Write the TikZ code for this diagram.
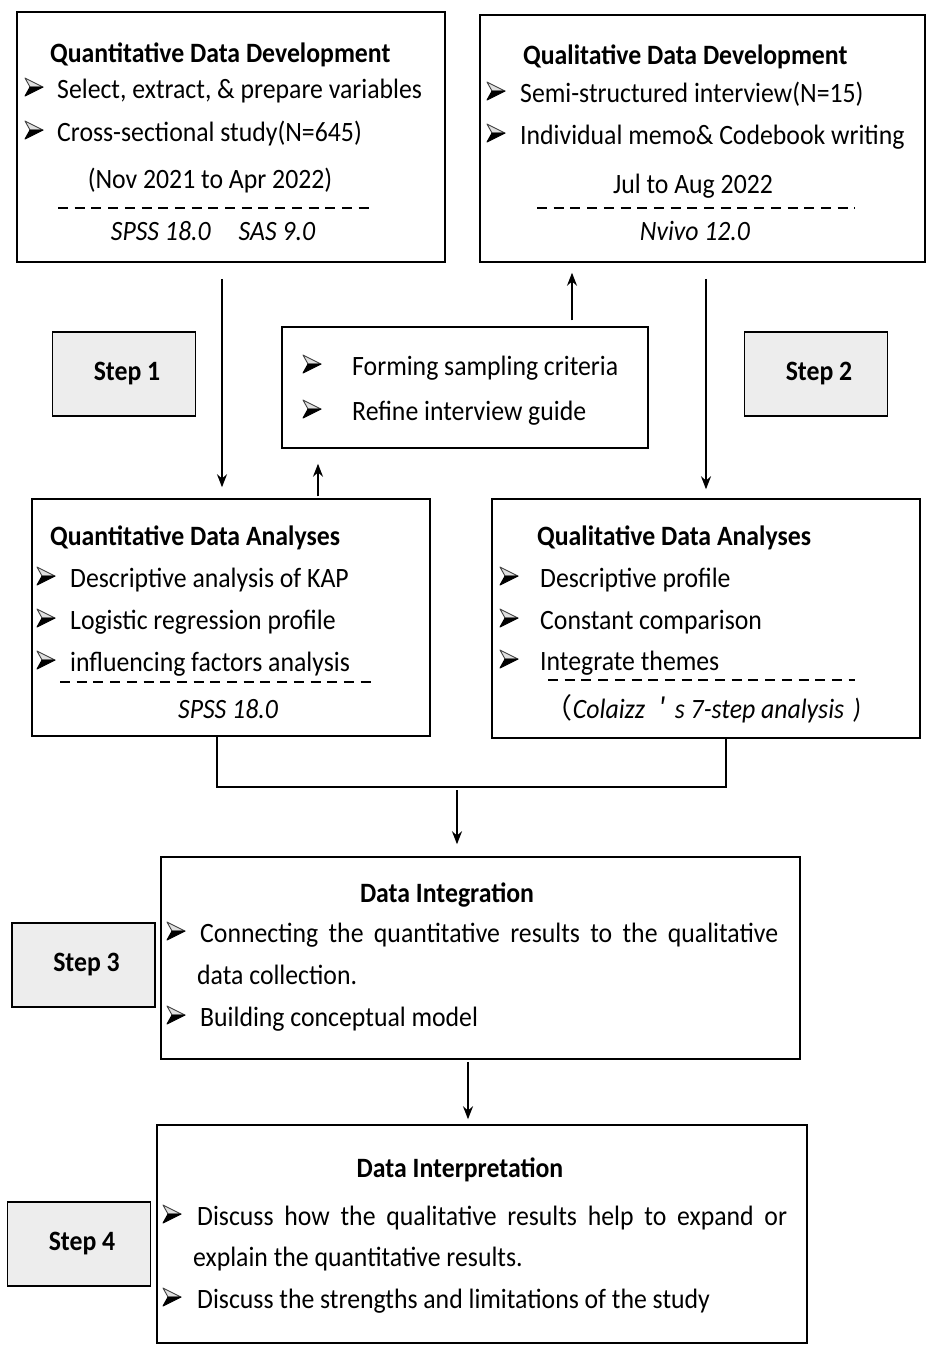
\documentclass[tikz,border=0pt]{standalone}
\usepackage{fontspec}
\setmainfont{Carlito}[FakeStretch=0.92]
\newfontfamily\cjk{Noto Sans CJK SC}
\usetikzlibrary{arrows.meta}
\usetikzlibrary{calc}
\usetikzlibrary{positioning}
\newcommand{\fsz}{\fontsize{28}{42}\selectfont}
\tikzset{box/.style={draw, line width=1.5pt, inner sep=0pt}}
\tikzset{stepbox/.style={box, fill=black!7, minimum width=143, minimum height=84, font=\fsz\bfseries}}
\tikzset{title/.style={anchor=base west, inner sep=0pt, font=\fsz\bfseries}}
\tikzset{txt/.style={anchor=base west, inner sep=0pt}}
\tikzset{ctxt/.style={anchor=base, inner sep=0pt}}
\tikzset{bul/.pic={
    \filldraw [fill=black!12, draw=black!75, line width=0.9pt, line join=round] (0,-20) -- (18,-11) -- (5,-11) -- cycle;
    \filldraw [fill=black, draw=black, line width=0.9pt, line join=round] (5,-11) -- (18,-11) -- (0,-2) -- cycle;
  }}
\tikzset{arr/.style={line width=1.5pt, -{Stealth[length=13pt,width=10pt]}}}
\tikzset{link/.style={line width=1.5pt}}
\tikzset{sep/.style={line width=1.2pt, dash pattern=on 10pt off 6.7pt}}

\begin{document}
\begin{tikzpicture}
    [
      x=1pt, y=-1pt,
      font=\fsz,
    ]
    \useasboundingbox (0,0) rectangle (935,1353);

    % boxes
    \node [box, minimum width=428, minimum height=250] (qnDev) at (231,137) {};
    \node [box, minimum width=445, minimum height=247] (qlDev) at (702.5,138.5) {};
    \node [box, minimum width=366, minimum height=121] (crit) at (465,387.5) {};
    \node [box, minimum width=398, minimum height=237] (qnAna) at (231,617.5) {};
    \node [box, minimum width=428, minimum height=239] (qlAna) at (706,618.5) {};
    \node [box, minimum width=639, minimum height=202] (integ) at (480.5,958) {};
    \node [box, minimum width=650, minimum height=218] (interp) at (482,1234) {};

    % steps
    \node [stepbox] (step1) at (124,374) {\hspace{6pt}Step 1};
    \node [stepbox] (step2) at (816,374) {\hspace{6pt}Step 2};
    \node [stepbox] (step3) at (83.5,965) {\hspace{6pt}Step 3};
    \node [stepbox] (step4) at (79,1244) {\hspace{6pt}Step 4};

    % quantitative data development
    \node [title] (qnDevT) at (50,62) {Quantitative Data Development};
    \foreach \i/\y/\t in {1/98/{Select, extract, \& prepare variables},2/141/{Cross-sectional study(N=645)}}
    {
      \pic (qnDevB\i) at (25,\y) {bul};
      \node [txt] (qnDev\i) at (57,\y) {\t};
    }
    \node [ctxt] (qnDevD) at (210,188) {(Nov 2021 to Apr 2022)};
    \draw [sep] (58,208) -- (375,208);
    \node [ctxt, font=\fsz\itshape] (qnDevS) at (213,240) {SPSS 18.0\quad SAS 9.0};

    % qualitative data development
    \node [title] (qlDevT) at (523,64) {Qualitative Data Development};
    \foreach \i/\y/\t in {1/102/{Semi-structured interview(N=15)},2/144/{Individual memo\& Codebook writing}}
    {
      \pic (qlDevB\i) at (487,\y) {bul};
      \node [txt] (qlDev\i) at (520,\y) {\t};
    }
    \node [ctxt] (qlDevD) at (693,193) {Jul to Aug 2022};
    \draw [sep] (537,208) -- (855,208);
    \node [ctxt, font=\fsz\itshape] (qlDevS) at (695,240) {Nvivo 12.0};

    % sampling criteria
    \foreach \i/\y/\t in {1/375/{Forming sampling criteria},2/420/{Refine interview guide}}
    {
      \pic (critB\i) at (303,\y) {bul};
      \node [txt] (crit\i) at (352,\y) {\t};
    }

    % quantitative data analyses
    \node [title] (qnAnaT) at (50,545) {Quantitative Data Analyses};
    \foreach \i/\y/\t in {1/587/{Descriptive analysis of KAP},2/629/{Logistic regression profile},3/671/{influencing factors analysis}}
    {
      \pic (qnAnaB\i) at (37,\y) {bul};
      \node [txt] (qnAna\i) at (70,\y) {\t};
    }
    \draw [sep] (60,682) -- (375,682);
    \node [ctxt, font=\fsz\itshape] (qnAnaS) at (228,718) {SPSS 18.0};

    % qualitative data analyses
    \node [title] (qlAnaT) at (537,545) {Qualitative Data Analyses};
    \foreach \i/\y/\t in {1/587/{Descriptive profile},2/629/{Constant comparison},3/670/{Integrate themes}}
    {
      \pic (qlAnaB\i) at (500,\y) {bul};
      \node [txt] (qlAna\i) at (540,\y) {\t};
    }
    \draw [sep] (548,680) -- (855,680);
    \node [ctxt] (qlAnaS) at (703,718) {{\cjk （}\textit{Colaizz}\hspace{14pt}{\cjk ′}\hspace{8pt}\textit{s 7-step analysis\hspace{9pt})}};

    % data integration
    \node [ctxt, font=\fsz\bfseries] (integT) at (447,902) {Data Integration};
    \pic (integB1) at (167,942) {bul};
    \node [txt] (integ1) at (200,942) {\makebox[578pt][s]{Connecting the quantitative results to the qualitative}};
    \node [txt] (integ1b) at (197,984) {data collection.};
    \pic (integB2) at (167,1026) {bul};
    \node [txt] (integ2) at (200,1026) {Building conceptual model};

    % data interpretation
    \node [ctxt, font=\fsz\bfseries] (interpT) at (460,1177) {Data Interpretation};
    \pic (interpB1) at (163,1225) {bul};
    \node [txt] (interp1) at (197,1225) {\makebox[590pt][s]{Discuss how the qualitative results help to expand or}};
    \node [txt] (interp1b) at (193,1266) {explain the quantitative results.};
    \pic (interpB2) at (163,1308) {bul};
    \node [txt] (interp2) at (197,1308) {Discuss the strengths and limitations of the study};

    % connectors
    \coordinate (upX) at (318,0);
    \coordinate (qlX) at (706,0);
    \coordinate (critX) at (572,0);
    \coordinate (joinL) at (217,787);
    \coordinate (joinR) at (726,787);
    \coordinate (joinM) at (457,787);
    \coordinate (downX) at (468,0);

    \draw [arr, shorten <=16pt, shorten >=11pt] ([xshift=-9pt]qnDev.south) -- ([xshift=-9pt]qnAna.north);
    \draw [arr, shorten <=2pt, shorten >=15pt] (qnAna.north -| upX) -- (crit.south -| upX);
    \draw [arr, shorten <=6pt, shorten >=10pt] (crit.north -| critX) -- (qlDev.south -| critX);
    \draw [arr, shorten <=16pt, shorten >=9pt] (qlDev.south -| qlX) -- (qlAna.north -| qlX);
    \draw [link] (qnAna.south -| joinL) -- (joinL) -- (joinR) -- (qlAna.south -| joinR);
    \draw [arr, shorten <=3pt, shorten >=12pt] (joinM) -- (integ.north -| joinM);
    \draw [arr, shorten <=2pt, shorten >=5pt] (integ.south -| downX) -- (interp.north -| downX);

  \end{tikzpicture}
\end{document}
